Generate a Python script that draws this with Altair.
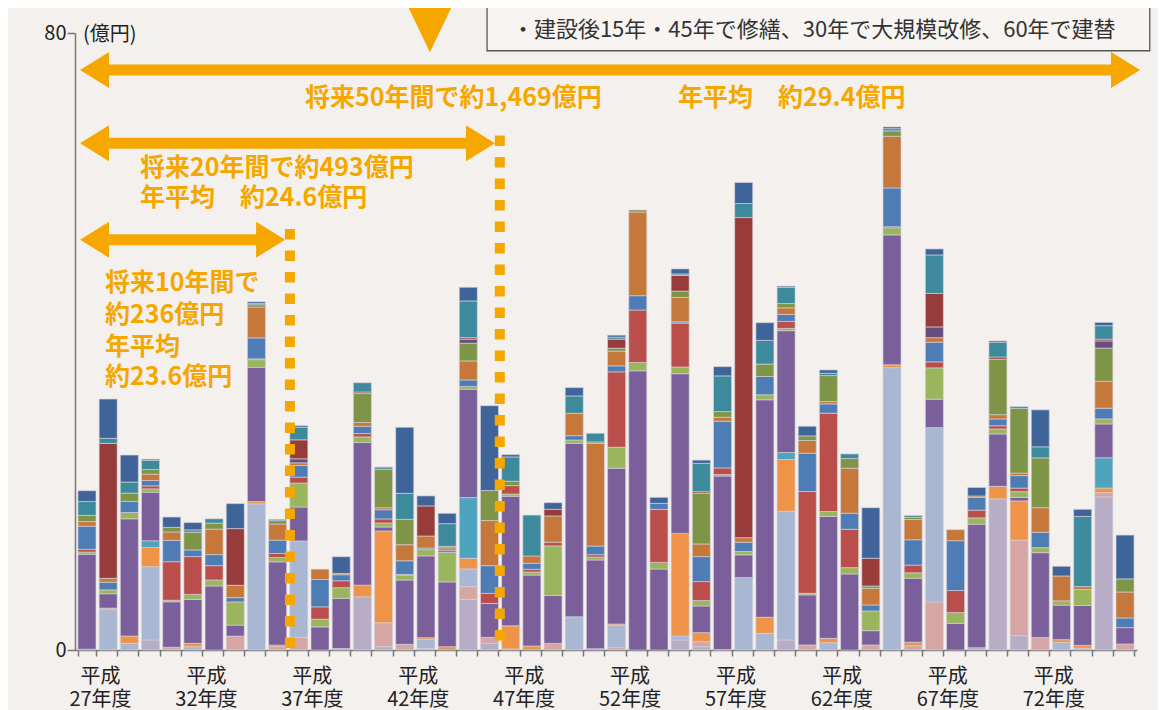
import altair as alt
import pandas as pd

# 平成27年度 … 平成76年度 (50 years)
years = list(range(27, 77))

categories = ["区分01", "区分02", "区分03", "区分04", "区分05", "区分06", "区分07", "区分08",
              "区分09", "区分10", "区分11", "区分12", "区分13", "区分14", "区分15"]
colors = ["#b7adc7", "#d6a6a5", "#a9b7d3", "#ef9349", "#4ea4bf", "#7a5f9a", "#9ab55b", "#b94e4a",
          "#4e7db5", "#c5783a", "#7e9547", "#654d7f", "#973c3b", "#3d8a9c", "#3f6499"]

# values in 億円 per year, bottom (区分01) to top (区分15)
s01 = [0.1, 0, 0, 1.3, 0, 0, 0, 0, 0, 0,
       0, 0, 0.2, 6.9, 0.43, 0, 0.2, 0, 6.57, 0.86,
       0, 0, 0, 0, 0, 0, 0, 0, 1.3, 0.43,
       0, 0, 0, 1.3, 0, 0, 0, 0, 0, 0,
       0, 0, 0.3, 19.6, 1.85, 0, 0, 0.23, 19.85, 0]
s02 = [0, 0, 0, 0, 0.35, 0, 0, 1.8, 0, 0.43,
       1.64, 0, 0, 0, 3.1, 0.73, 0, 0, 1.64, 0.78,
       0.13, 0, 0.86, 0, 0, 0.3, 0, 0, 0, 0.65,
       0, 0, 0, 0, 0.65, 0, 0, 0.65, 0, 0.55,
       6.23, 0, 0, 0, 12.4, 1.62, 0, 0, 0.55, 0.78]
s03 = [0, 5.3, 0.86, 9.5, 0, 0.43, 0, 0, 18.95, 0,
       12.5, 0, 0, 0, 0, 0, 1.2, 0, 2.3, 0,
       0, 0, 0, 4.3, 0, 2.9, 0, 0, 0.52, 0,
       0, 9.4, 2.16, 16.7, 0, 0.95, 0, 0, 36.6, 0,
       22.6, 0, 0, 0, 0, 0, 0.97, 0, 0, 0]
s04 = [0, 0.13, 0.95, 2.5, 0, 0.43, 0, 0, 0.3, 0.2,
       0, 0, 0, 1.5, 11.9, 0, 0.2, 0.43, 1.38, 0,
       3.0, 0.52, 0, 0, 0.17, 0.17, 0, 0, 13.3, 1.17,
       0.05, 0, 2.08, 6.7, 0, 0.56, 0, 0, 0.37, 0.46,
       0, 0, 0, 1.62, 5.08, 0, 0.37, 0.37, 0.6, 0]
s05 = [0, 0, 0, 0.86, 0, 0, 0, 0, 0, 0,
       0, 0, 0, 0, 0, 0, 0, 0, 7.87, 0,
       0, 0, 0, 0, 0, 0, 0, 0, 0, 0,
       0, 0, 0, 0.9, 0, 0, 0, 0, 0, 0,
       0, 0, 0, 0, 0, 0, 0, 0, 3.92, 0]
s06 = [12.3, 1.86, 15.2, 6.3, 5.9, 5.7, 8.3, 1.43, 17.4, 10.8,
       4.4, 3.0, 6.5, 18.5, 0.52, 8.34, 10.6, 8.4, 14.05, 4.4,
       16.8, 9.2, 6.2, 22.5, 11.5, 20.2, 36.2, 10.5, 20.7, 3.46,
       22.5, 2.94, 28.2, 15.8, 6.5, 15.8, 9.86, 1.86, 16.85, 8.3,
       3.69, 3.46, 16.0, 6.79, 0.46, 11.0, 4.48, 5.17, 4.39, 2.12]
s07 = [0.3, 0.5, 0.82, 0.43, 0.2, 0.65, 0.78, 3.0, 1.0, 0.56,
       3.1, 0.99, 1.38, 0.73, 0.52, 0.6, 0.82, 3.85, 0.35, 0,
       0.3, 0.39, 6.44, 0.43, 0.39, 2.72, 1.08, 0.86, 0.86, 0.7,
       0.2, 0.43, 0.65, 0.3, 0.2, 0.65, 0.82, 2.55, 0.92, 0.7,
       4.06, 1.39, 0.83, 0.65, 0.74, 0.65, 0.55, 2.08, 0.65, 0]
s08 = [0.35, 0, 0, 0.39, 5.0, 4.9, 1.86, 0, 0.1, 0.52,
       0.78, 1.6, 0.9, 0.43, 0.52, 0.13, 0, 0, 0, 1.3,
       1.08, 0.35, 0.48, 0, 0.3, 9.77, 6.8, 6.87, 5.7, 2.46,
       0.86, 0, 0, 0.9, 13.2, 12.75, 4.97, 0, 0.14, 1.0,
       0.78, 2.86, 1.0, 0.42, 0.46, 0, 0, 0, 0, 0]
s09 = [3.0, 1.0, 1.43, 0.7, 2.77, 0.86, 1.43, 0.56, 2.72, 1.73,
       1.5, 3.55, 0.78, 0.95, 1.2, 1.77, 0.2, 0.26, 0.86, 3.6,
       0, 0.78, 0, 0.56, 1.12, 0.78, 1.86, 0.78, 0.17, 3.24,
       6.05, 1.2, 2.38, 0.9, 4.97, 1.2, 2.08, 0.78, 5.03, 3.28,
       2.54, 6.46, 1.66, 0.88, 1.62, 1.99, 0, 0, 1.39, 1.25]
s10 = [0.6, 0.5, 0, 0.82, 1.08, 0, 3.3, 1.6, 4.0, 2.1,
       0.35, 1.34, 0.17, 0.48, 0.26, 2.08, 1.56, 0.3, 2.46, 5.84,
       0, 0.95, 3.4, 2.9, 13.3, 1.9, 10.85, 0, 3.16, 1.64,
       0.52, 0.6, 0, 0.86, 1.64, 0.3, 5.84, 2.16, 6.7, 2.63,
       0.6, 1.43, 0.18, 0.55, 0.32, 3.19, 3.23, 0.37, 3.5, 3.37]
s11 = [0.8, 0, 1.08, 0.6, 0.6, 2.3, 0.78, 0, 0.3, 0.43,
       0, 0, 0, 3.76, 5.0, 3.29, 0, 0.2, 2.3, 3.9,
       0.56, 0, 0, 0, 0.2, 0.39, 0.26, 0, 0.82, 6.57,
       0.73, 0, 1.6, 0.56, 0.6, 3.37, 1.25, 0.3, 0.7, 0.28,
       0, 0, 0, 7.2, 8.4, 6.46, 0, 0, 4.3, 1.7]
s12 = [0, 0, 0, 0, 0, 0, 0, 0, 0, 0,
       0.52, 0, 0, 0, 0, 0, 0, 0, 0.52, 0,
       0, 0, 0, 0, 0, 0, 0, 0, 0, 0,
       0, 0, 0, 0, 0, 0, 0, 0, 0, 0,
       1.39, 0, 0, 0, 0, 0, 0, 0, 0.92, 0]
s13 = [0, 17.5, 0, 0, 0, 0, 0, 7.35, 0, 0,
       2.46, 0, 0, 0.2, 0, 0, 3.9, 0, 0.2, 0,
       0, 0, 0.86, 0, 0, 1.17, 0, 0, 2.03, 0.2,
       0, 41.5, 0, 0, 0, 0, 0, 3.59, 0, 0,
       4.34, 0, 0, 0.28, 0, 0, 0, 0, 0.23, 0]
s14 = [1.8, 0.65, 1.43, 1.17, 0, 0.3, 0.56, 0, 0.15, 0.17,
       1.64, 0, 0, 1.2, 0.26, 3.37, 0, 2.94, 4.76, 0,
       3.16, 5.3, 0, 2.25, 1.12, 0.26, 0, 0, 0.2, 3.67,
       4.63, 1.82, 3.07, 2.08, 0, 0.3, 0.6, 0, 0.28, 0.23,
       4.99, 0, 0, 1.9, 0.23, 1.43, 0, 9.1, 1.75, 0]
s15 = [1.4, 5.1, 3.5, 0.17, 1.34, 0.95, 0, 3.24, 0.22, 0,
       0.2, 0, 2.16, 0, 0, 8.56, 1.3, 1.34, 1.77, 11.0,
       0.3, 0, 0.86, 1.08, 0, 0.26, 0, 0.78, 0.65, 0.43,
       1.2, 2.72, 2.3, 0.17, 1.25, 0.43, 0, 6.57, 0.23, 0,
       0.78, 0, 1.1, 0.18, 0, 4.8, 1.25, 0.92, 0.42, 5.68]

series = [s01, s02, s03, s04, s05, s06, s07, s08, s09, s10, s11, s12, s13, s14, s15]

ORANGE = "#f5a700"
FONT = "Noto Sans CJK JP"

rows = []
for k, (cat, vals) in enumerate(zip(categories, series)):
    for yr, v in zip(years, vals):
        if v > 0:
            rows.append({"year": yr, "cat": cat, "k": k, "value": v})
df = pd.DataFrame(rows)

yscale = alt.Scale(domain=[0, 80], nice=False, zero=True)
xq = alt.Scale(domain=[0, 50], nice=False, zero=False)

bars = alt.Chart(df).mark_bar(stroke="#d4d2dc", strokeWidth=0.8, strokeOpacity=0.8).encode(
    x=alt.X("year:O",
            scale=alt.Scale(paddingInner=0.15, paddingOuter=0.14),
            axis=alt.Axis(title=None, tickBand="extent", tickSize=6, tickColor="#777",
                          tickWidth=1.5, domainColor="#777", domainWidth=1.5,
                          labelExpr="datum.value % 5 == 2 ? ['平成', datum.value + '年度'] : ''",
                          labelAngle=0, labelFont=FONT, labelFontSize=20, labelColor="#222",
                          labelLineHeight=23, labelPadding=10, labelOffset=13,
                          labelOverlap=False, labelBound=False)),
    y=alt.Y("value:Q", stack="zero", scale=yscale,
            axis=alt.Axis(title=None, values=[0, 80], grid=False, tickSize=8, tickColor="#777",
                          tickWidth=1.5, domainColor="#777", domainWidth=1.5,
                          labelFont=FONT, labelFontSize=20, labelColor="#222", labelPadding=1)),
    color=alt.Color("cat:N", scale=alt.Scale(domain=categories, range=colors), legend=None),
    order=alt.Order("k:Q", sort="ascending"),
)

# dotted vertical markers (10 and 20 years)
dots_df = pd.DataFrame({"x": [10.12, 20.0], "y": [54.6, 66.7], "y2": [0, 0]})
dots = alt.Chart(dots_df).mark_rule(color=ORANGE, strokeWidth=10, strokeDash=[10.5, 11],
                                    strokeCap="butt").encode(
    x=alt.X("x:Q", scale=xq, axis=None),
    y=alt.Y("y:Q", scale=yscale),
    y2="y2:Q",
)

# arrows: shaft from left head centre to right head centre
arr_df = pd.DataFrame({"x": [0.92, 0.92, 0.92], "x2": [49.46, 19.09, 9.21],
                       "y": [75.2, 65.7, 53.2]})
shafts = alt.Chart(arr_df).mark_rule(color=ORANGE, strokeWidth=11).encode(
    x=alt.X("x:Q", scale=xq, axis=None),
    x2="x2:Q",
    y=alt.Y("y:Q", scale=yscale),
)
lheads = alt.Chart(arr_df).mark_point(filled=True, opacity=1, size=841, color=ORANGE,
                                      shape="M-1,0L1,-1.24L1,1.24Z").encode(
    x=alt.X("x:Q", scale=xq, axis=None),
    y=alt.Y("y:Q", scale=yscale),
)
rheads = alt.Chart(arr_df).mark_point(filled=True, opacity=1, size=841, color=ORANGE,
                                      shape="M1,0L-1,-1.24L-1,1.24Z").encode(
    x=alt.X("x2:Q", scale=xq, axis=None),
    y=alt.Y("y:Q", scale=yscale),
)

ann_text = ["将来50年間で約1,469億円", "年平均　約29.4億円",
            "将来20年間で約493億円", "年平均　約24.6億円",
            "将来10年間で", "約236億円", "年平均", "約23.6億円"]
ann_x = [10.83, 28.39, 3.06, 3.06, 1.41, 1.41, 1.41, 1.41]
ann_y = [71.6, 71.6, 62.5, 58.6, 47.6, 43.4, 39.3, 35.4]
ann_df = pd.DataFrame({"t": ann_text, "x": ann_x, "y": ann_y})
texts = alt.Chart(ann_df).mark_text(align="left", baseline="middle", font=FONT, fontSize=25,
                                    fontWeight="bold", color=ORANGE).encode(
    x=alt.X("x:Q", scale=xq, axis=None),
    y=alt.Y("y:Q", scale=yscale),
    text="t:N",
)

unit_df = pd.DataFrame({"t": ["(億円)"], "x": [0.38], "y": [79.7]})
unit = alt.Chart(unit_df).mark_text(align="left", baseline="middle", font=FONT, fontSize=20,
                                    color="#222").encode(
    x=alt.X("x:Q", scale=xq, axis=None),
    y=alt.Y("y:Q", scale=yscale),
    text="t:N",
)

# note box at the top and the downward triangle
box_df = pd.DataFrame({"x": [19.4], "x2": [50.6], "y": [77.7], "y2": [92.0]})
box = alt.Chart(box_df).mark_rect(fill="#f7f4f2", stroke="#555", strokeWidth=1.3).encode(
    x=alt.X("x:Q", scale=xq, axis=None), x2="x2:Q",
    y=alt.Y("y:Q", scale=yscale), y2="y2:Q",
)
note_df = pd.DataFrame({"t": ["・建設後15年・45年で修繕、30年で大規模改修、60年で建替"],
                        "x": [20.57], "y": [80.4]})
note = alt.Chart(note_df).mark_text(align="left", baseline="middle", font=FONT, fontSize=22,
                                    color="#333").encode(
    x=alt.X("x:Q", scale=xq, axis=None),
    y=alt.Y("y:Q", scale=yscale),
    text="t:N",
)
tri_df = pd.DataFrame({"x": [16.71], "y": [84.28]})
tri = alt.Chart(tri_df).mark_point(filled=True, opacity=1, size=4356, color=ORANGE,
                                   shape="M-1,-0.5L1,-0.5L0,1.58Z").encode(
    x=alt.X("x:Q", scale=xq, axis=None),
    y=alt.Y("y:Q", scale=yscale),
)

chart = alt.layer(bars, dots, shafts, lheads, rheads, texts, unit, box, note, tri).resolve_scale(
    x="independent"
).properties(
    width=1062, height=617,
    padding={"left": 67, "top": 25, "right": 21, "bottom": 60},
    autosize=alt.AutoSizeParams(type="none"),
    background="#f4f0ed",
).configure_view(stroke=None)

chart.save("out.html", embed_options={"renderer": "svg", "actions": False})
